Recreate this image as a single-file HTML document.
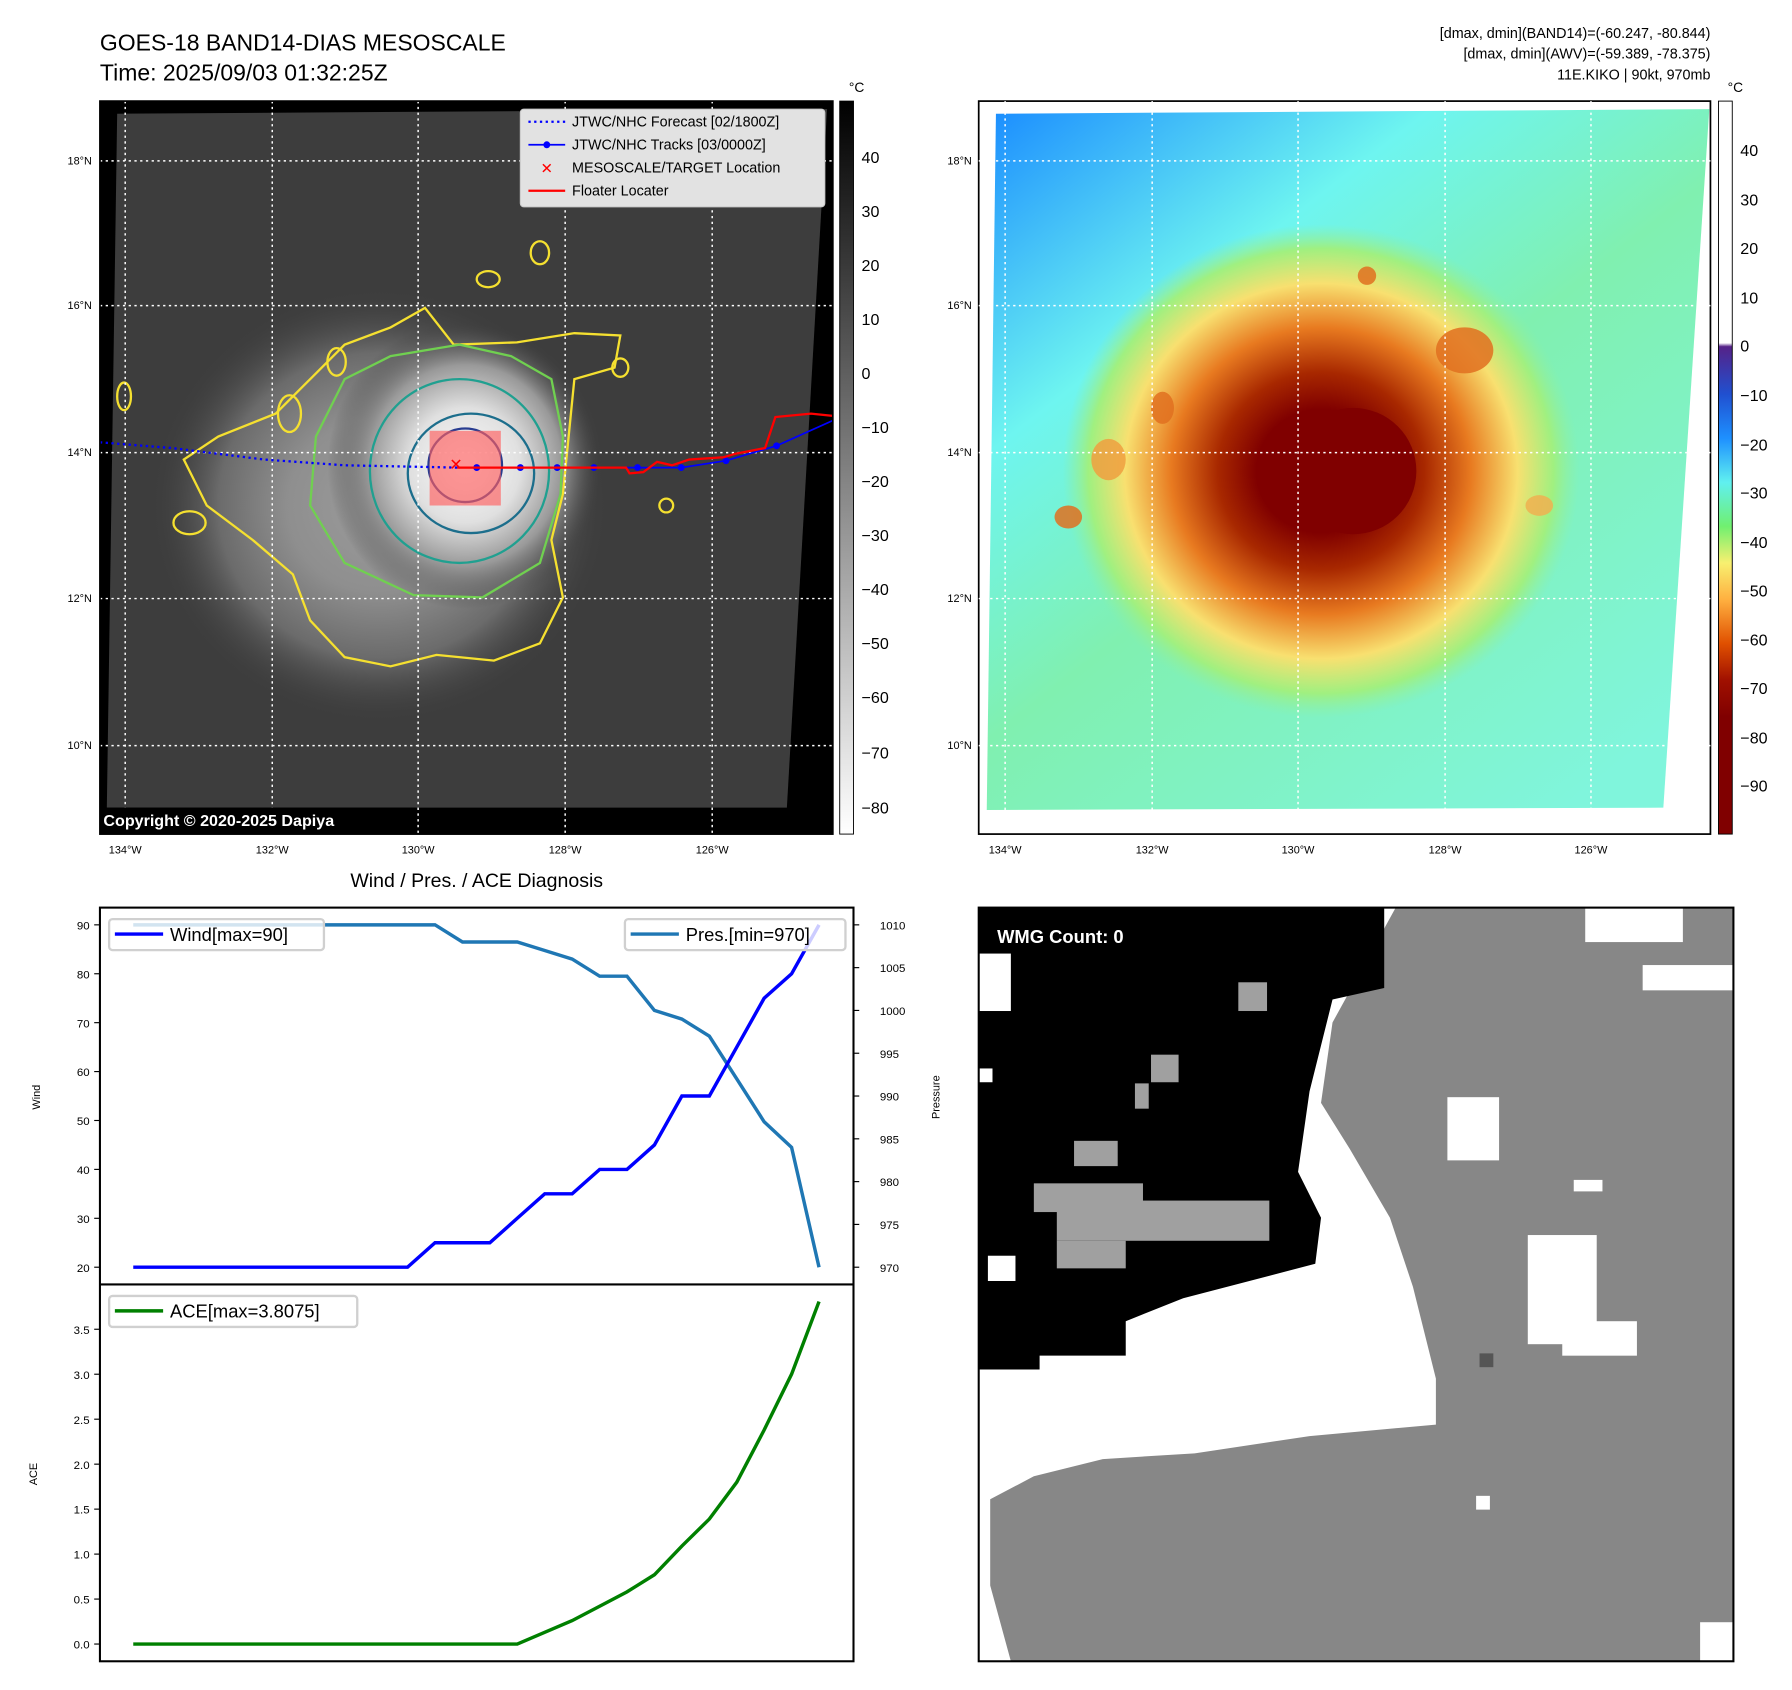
<!DOCTYPE html>
<html><head><meta charset="utf-8"><style>
html,body{margin:0;padding:0;background:#fff;}
svg{display:block;font-family:"Liberation Sans","DejaVu Sans",sans-serif;}
</style></head><body>
<svg id="root" width="1792" height="1690" viewBox="0 0 1560 1471" preserveAspectRatio="none" xmlns="http://www.w3.org/2000/svg">
<defs>
<linearGradient id="gcb" x1="0" y1="0" x2="0" y2="1"><stop offset="0" stop-color="#000"/><stop offset="1" stop-color="#fff"/></linearGradient>
<linearGradient id="ccb" x1="0" y1="0" x2="0" y2="1">
<stop offset="0" stop-color="#fff"/><stop offset="0.33" stop-color="#fff"/><stop offset="0.335" stop-color="#552288"/>
<stop offset="0.40" stop-color="#2050d0"/><stop offset="0.46" stop-color="#1e90ff"/><stop offset="0.52" stop-color="#60f0f0"/>
<stop offset="0.58" stop-color="#70f070"/><stop offset="0.63" stop-color="#f8f070"/><stop offset="0.68" stop-color="#ffb040"/>
<stop offset="0.74" stop-color="#e05000"/><stop offset="0.79" stop-color="#a01000"/><stop offset="0.84" stop-color="#800000"/><stop offset="1" stop-color="#800000"/></linearGradient>
<radialGradient id="cloud" cx="0.5" cy="0.5" r="0.5"><stop offset="0" stop-color="#fafafa"/><stop offset="0.4" stop-color="#e0e0e0"/><stop offset="0.7" stop-color="#999"/><stop offset="1" stop-color="#3c3c3c" stop-opacity="0"/></radialGradient>
<linearGradient id="bgR" x1="0" y1="0" x2="0.8" y2="1"><stop offset="0" stop-color="#1a8cff"/><stop offset="0.3" stop-color="#6ef5f0"/><stop offset="0.55" stop-color="#80f0b0"/><stop offset="1" stop-color="#80f5dc"/></linearGradient>
<radialGradient id="storm" cx="0.5" cy="0.5" r="0.5"><stop offset="0" stop-color="#800000"/><stop offset="0.25" stop-color="#800000"/><stop offset="0.4" stop-color="#a82800"/><stop offset="0.58" stop-color="#e87a20"/><stop offset="0.76" stop-color="#f8e070"/><stop offset="0.9" stop-color="#a0f080"/><stop offset="1" stop-color="#90f0a0" stop-opacity="0"/></radialGradient>
<clipPath id="clipL"><rect x="87" y="88" width="638" height="638"/></clipPath>
</defs>

<text x="87" y="44" font-size="20">GOES-18 BAND14-DIAS MESOSCALE</text>
<text x="87" y="70" font-size="20">Time: 2025/09/03 01:32:25Z</text>
<g font-size="12.5" text-anchor="end">
<text x="1489" y="33">[dmax, dmin](BAND14)=(-60.247, -80.844)</text>
<text x="1489" y="51">[dmax, dmin](AWV)=(-59.389, -78.375)</text>
<text x="1489" y="69">11E.KIKO | 90kt, 970mb</text>
</g>

<g clip-path="url(#clipL)">
<rect x="87" y="88" width="638" height="638" fill="#000"/>
<polygon points="102,99 720,95 685,703 93,703" fill="#3d3d3d"/>
<ellipse cx="330" cy="440" rx="200" ry="190" fill="url(#cloud)" opacity="0.5"/>
<ellipse cx="405" cy="405" rx="120" ry="125" fill="url(#cloud)"/>
<g fill="none" stroke-width="2">
<path d="M370,268 L395,300 L450,298 L500,290 L540,292 L535,320 L500,330 L495,380 L490,430 L480,470 L490,520 L470,560 L430,575 L380,570 L340,580 L300,572 L270,540 L255,500 L220,470 L180,440 L160,400 L190,380 L240,360 L270,330 L300,300 L340,285 Z" stroke="#f5e030"/>
<path d="M400,300 L445,310 L480,330 L490,380 L488,430 L470,490 L420,520 L360,518 L300,490 L270,440 L275,380 L300,330 L340,310 Z" stroke="#70d050"/>
<ellipse cx="400" cy="410" rx="78" ry="80" stroke="#20a090"/>
<ellipse cx="410" cy="412" rx="55" ry="52" stroke="#1c6e8c"/>
<ellipse cx="405" cy="405" rx="32" ry="32" stroke="#283c90"/>
<ellipse cx="165" cy="455" rx="14" ry="10" stroke="#f5e030"/>
<ellipse cx="425" cy="243" rx="10" ry="7" stroke="#f5e030"/>
<ellipse cx="470" cy="220" rx="8" ry="10" stroke="#f5e030"/>
<ellipse cx="293" cy="315" rx="8" ry="12" stroke="#f5e030"/>
<ellipse cx="252" cy="360" rx="10" ry="16" stroke="#f5e030"/>
<ellipse cx="540" cy="320" rx="7" ry="8" stroke="#f5e030"/>
<ellipse cx="108" cy="345" rx="6" ry="12" stroke="#f5e030"/>
<ellipse cx="580" cy="440" rx="6" ry="6" stroke="#f5e030"/>
</g>
<g stroke="#fff" stroke-dasharray="2,3" stroke-width="1.3">
<line x1="109" y1="88" x2="109" y2="726"/><line x1="237" y1="88" x2="237" y2="726"/><line x1="364" y1="88" x2="364" y2="726"/><line x1="492" y1="88" x2="492" y2="726"/><line x1="620" y1="88" x2="620" y2="726"/>
<line x1="87" y1="140" x2="725" y2="140"/><line x1="87" y1="266" x2="725" y2="266"/><line x1="87" y1="394" x2="725" y2="394"/><line x1="87" y1="521" x2="725" y2="521"/><line x1="87" y1="649" x2="725" y2="649"/>
</g>
<rect x="374" y="375" width="62" height="65" fill="#ff6060" opacity="0.65"/>
<polyline points="87,385 150,390 230,400 300,405 398,407" fill="none" stroke="#0000ff" stroke-width="2" stroke-dasharray="2,3"/>
<polyline points="398,407 453,407 485,407 517,407 555,407 593,407 632,401 676,388 725,366" fill="none" stroke="#0000ff" stroke-width="1.5"/>
<g fill="#0000ff"><circle cx="415" cy="407" r="3"/><circle cx="453" cy="407" r="3"/><circle cx="485" cy="407" r="3"/><circle cx="517" cy="407" r="3"/><circle cx="555" cy="407" r="3"/><circle cx="593" cy="407" r="3"/><circle cx="632" cy="401" r="3"/><circle cx="676" cy="388" r="3"/></g>
<polyline points="398,407 545,407 548,412 560,411 572,402 585,405 600,400 630,398 640,395 666,390 675,363 706,360 725,362" fill="none" stroke="#ff0000" stroke-width="2"/>
<text x="397" y="409" fill="#ff0000" font-size="14" font-weight="bold" text-anchor="middle">✕</text>
<rect x="87" y="703" width="275" height="23" fill="#000"/>
<text x="90" y="719" fill="#fff" font-size="14" font-weight="bold">Copyright © 2020-2025 Dapiya</text>
</g>
<rect x="87" y="88" width="638" height="638" fill="none" stroke="#000" stroke-width="1.5"/>
<g>
<rect x="453" y="95" width="265" height="85" rx="3" fill="#e2e2e2" stroke="#ccc"/>
<line x1="460" y1="106" x2="492" y2="106" stroke="#00f" stroke-width="2" stroke-dasharray="2,3"/>
<line x1="460" y1="126" x2="492" y2="126" stroke="#00f" stroke-width="1.5"/><circle cx="476" cy="126" r="3" fill="#00f"/>
<text x="476" y="151" fill="#f00" font-size="13" font-weight="bold" text-anchor="middle">✕</text>
<line x1="460" y1="166" x2="492" y2="166" stroke="#f00" stroke-width="2"/>
<g font-size="12.5"><text x="498" y="110">JTWC/NHC Forecast [02/1800Z]</text><text x="498" y="130">JTWC/NHC Tracks [03/0000Z]</text><text x="498" y="150">MESOSCALE/TARGET Location</text><text x="498" y="170">Floater Locater</text></g>
</g>
<g font-size="9.5" text-anchor="end">
<text x="80" y="143">18°N</text><text x="80" y="269">16°N</text><text x="80" y="397">14°N</text><text x="80" y="524">12°N</text><text x="80" y="652">10°N</text></g>
<g font-size="9.5" text-anchor="middle">
<text x="109" y="743">134°W</text><text x="237" y="743">132°W</text><text x="364" y="743">130°W</text><text x="492" y="743">128°W</text><text x="620" y="743">126°W</text></g>
<g>
<rect x="731" y="88" width="12" height="638" fill="url(#gcb)" stroke="#000" stroke-width="0.8"/>
<text x="739" y="80" font-size="12">°C</text>
<g font-size="14"><text x="750" y="142">40</text><text x="750" y="189">30</text><text x="750" y="236">20</text><text x="750" y="283">10</text><text x="750" y="330">0</text><text x="750" y="377">−10</text><text x="750" y="424">−20</text><text x="750" y="471">−30</text><text x="750" y="518">−40</text><text x="750" y="565">−50</text><text x="750" y="612">−60</text><text x="750" y="660">−70</text><text x="750" y="708">−80</text></g>
</g>

<g>
<rect x="852" y="88" width="637" height="638" fill="#fff" stroke="#000" stroke-width="1.5"/>
<polygon points="867,99 1488,95 1448,703 859,705" fill="url(#bgR)"/>
<ellipse cx="1150" cy="410" rx="225" ry="215" fill="url(#storm)"/>
<ellipse cx="1178" cy="410" rx="55" ry="55" fill="#800000"/>
<g fill="#e07020" opacity="0.85"><ellipse cx="930" cy="450" rx="12" ry="10"/><ellipse cx="1012" cy="355" rx="10" ry="14"/><ellipse cx="1275" cy="305" rx="25" ry="20"/><ellipse cx="1190" cy="240" rx="8" ry="8"/><ellipse cx="1340" cy="440" rx="12" ry="9" fill="#f0b050"/><ellipse cx="965" cy="400" rx="15" ry="18" fill="#f0a040"/></g>
<g stroke="#fff" stroke-dasharray="2,3" stroke-width="1.3">
<line x1="875" y1="88" x2="875" y2="726"/><line x1="1003" y1="88" x2="1003" y2="726"/><line x1="1130" y1="88" x2="1130" y2="726"/><line x1="1258" y1="88" x2="1258" y2="726"/><line x1="1385" y1="88" x2="1385" y2="726"/>
<line x1="852" y1="140" x2="1489" y2="140"/><line x1="852" y1="266" x2="1489" y2="266"/><line x1="852" y1="394" x2="1489" y2="394"/><line x1="852" y1="521" x2="1489" y2="521"/><line x1="852" y1="649" x2="1489" y2="649"/>
</g>
</g>
<g font-size="9.5" text-anchor="end">
<text x="846" y="143">18°N</text><text x="846" y="269">16°N</text><text x="846" y="397">14°N</text><text x="846" y="524">12°N</text><text x="846" y="652">10°N</text></g>
<g font-size="9.5" text-anchor="middle">
<text x="875" y="743">134°W</text><text x="1003" y="743">132°W</text><text x="1130" y="743">130°W</text><text x="1258" y="743">128°W</text><text x="1385" y="743">126°W</text></g>
<g>
<rect x="1496" y="88" width="12" height="638" fill="url(#ccb)" stroke="#000" stroke-width="0.8"/>
<text x="1504" y="80" font-size="12">°C</text>
<g font-size="14"><text x="1515" y="136">40</text><text x="1515" y="179">30</text><text x="1515" y="221">20</text><text x="1515" y="264">10</text><text x="1515" y="306">0</text><text x="1515" y="349">−10</text><text x="1515" y="392">−20</text><text x="1515" y="434">−30</text><text x="1515" y="477">−40</text><text x="1515" y="519">−50</text><text x="1515" y="562">−60</text><text x="1515" y="604">−70</text><text x="1515" y="647">−80</text><text x="1515" y="689">−90</text></g>
</g>

<text x="415" y="772" font-size="17" text-anchor="middle">Wind / Pres. / ACE Diagnosis</text>
<g id="chart"></g>
<text transform="translate(35,955) rotate(-90)" font-size="9.5" text-anchor="middle">Wind</text>
<text transform="translate(818,955) rotate(-90)" font-size="9.5" text-anchor="middle">Pressure</text>
<text transform="translate(32,1283) rotate(-90)" font-size="9.5" text-anchor="middle">ACE</text>

<g>
<rect x="852" y="790" width="657" height="656" fill="#fff"/>
<polygon points="1215,790 1509,790 1509,1446 880,1446 862,1380 862,1305 900,1285 960,1270 1040,1265 1140,1250 1250,1240 1250,1200 1230,1120 1210,1060 1175,1000 1150,960 1160,890" fill="#878787"/>
<g fill="#fff"><rect x="1260" y="955" width="45" height="55"/><rect x="1330" y="1075" width="60" height="95"/><rect x="1380" y="790" width="85" height="30"/><rect x="1430" y="840" width="79" height="22"/><rect x="1480" y="1412" width="29" height="34"/><rect x="1360" y="1150" width="65" height="30"/><rect x="1285" y="1302" width="12" height="12"/><rect x="1370" y="1027" width="25" height="10"/></g>
<polygon points="852,790 1205,790 1205,860 1160,870 1140,950 1130,1020 1150,1060 1145,1100 1030,1130 980,1150 980,1180 905,1180 905,1192 852,1192" fill="#000"/>
<g fill="#a0a0a0"><rect x="900" y="1030" width="95" height="25"/><rect x="920" y="1045" width="185" height="35"/><rect x="920" y="1080" width="60" height="24"/><rect x="935" y="993" width="38" height="22"/><rect x="1078" y="855" width="25" height="25"/><rect x="1002" y="918" width="24" height="24"/><rect x="988" y="943" width="12" height="22"/></g>
<rect x="1288" y="1178" width="12" height="12" fill="#555"/>
<g fill="#fff"><rect x="852" y="830" width="28" height="50"/><rect x="852" y="930" width="12" height="12"/><rect x="860" y="1093" width="24" height="22"/></g>
<rect x="852" y="790" width="657" height="656" fill="none" stroke="#000" stroke-width="1.8"/>
<text x="868" y="821" fill="#fff" font-size="16" font-weight="bold">WMG Count: 0</text>
</g>
</svg>
<script>
const windVals=[20,20,20,20,20,20,20,20,20,20,20,25,25,25,30,35,35,40,40,45,55,55,65,75,80,90];
const presVals=[1010,1010,1010,1010,1010,1010,1010,1010,1010,1010,1010,1010,1008,1008,1008,1007,1006,1004,1004,1000,999,997,992,987,984,970];
const aceVals=[0,0,0,0,0,0,0,0,0,0,0,0,0,0,0,0.13,0.26,0.42,0.58,0.77,1.09,1.39,1.8,2.38,3.0,3.8075];
const windTicks=[20,30,40,50,60,70,80,90];
const presTicks=[970,975,980,985,990,995,1000,1005,1010];
const aceTicks=["0.0","0.5","1.0","1.5","2.0","2.5","3.0","3.5"];
const NS='http://www.w3.org/2000/svg';
const g=document.getElementById('chart');
const xS=i=>116+i*(597/(windVals.length-1));
const yW=v=>1103-(v-20)*(298/70);
const yP=v=>1103-(v-970)*(298/40);
const yA=v=>1431-v*(274/3.5);
function mk(t,a,p){const e=document.createElementNS(NS,t);for(const k in a)e.setAttribute(k,a[k]);(p||g).appendChild(e);return e;}
mk('rect',{x:87,y:790,width:656,height:656,fill:'#fff',stroke:'#000','stroke-width':1.8});
mk('line',{x1:87,y1:1118,x2:743,y2:1118,stroke:'#000','stroke-width':1.8});
windTicks.forEach(v=>{const y=yW(v);
const tk=mk('line',{x1:82,y1:y,x2:87,y2:y,stroke:'#000'});


const t=mk('text',{x:78,y:y+4,'font-size':10,'text-anchor':'end'});t.textContent=v;

});
presTicks.forEach(v=>{const y=yP(v);
const tk=mk('line',{x1:743,y1:y,x2:748,y2:y,stroke:'#000'});


const t=mk('text',{x:766,y:y+4,'font-size':10});t.textContent=v;

});
aceTicks.forEach(s=>{const y=yA(parseFloat(s));
const tk=mk('line',{x1:82,y1:y,x2:87,y2:y,stroke:'#000'});


const t=mk('text',{x:78,y:y+4,'font-size':10,'text-anchor':'end'});t.textContent=s;

});
function line(vals,ys,col,name){const pts=vals.map((v,i)=>xS(i).toFixed(1)+','+ys(v).toFixed(1)).join(' ');
const l=mk('polyline',{points:pts,fill:'none',stroke:col,'stroke-width':3});

}
line(presVals,yP,'#1f77b4','pressure-line');
line(windVals,yW,'#0000ff','wind-line');
line(aceVals,yA,'#008000','ace-line');
function legend(x,y,w,col,txt,name){const lg=mk('g',{});


mk('rect',{x:x,y:y,width:w,height:27,rx:3,fill:'#fff','fill-opacity':0.8,stroke:'#d0d0d0','stroke-width':2},lg);
mk('line',{x1:x+5,y1:y+13,x2:x+47,y2:y+13,stroke:col,'stroke-width':3},lg);
const t=mk('text',{x:x+53,y:y+19,'font-size':16},lg);t.textContent=txt;}
legend(95,800,187,'#0000ff','Wind[max=90]','wind-legend');
legend(544,800,192,'#1f77b4','Pres.[min=970]','pressure-legend');
legend(95,1128,216,'#008000','ACE[max=3.8075]','ace-legend');
</script>
</body></html>
